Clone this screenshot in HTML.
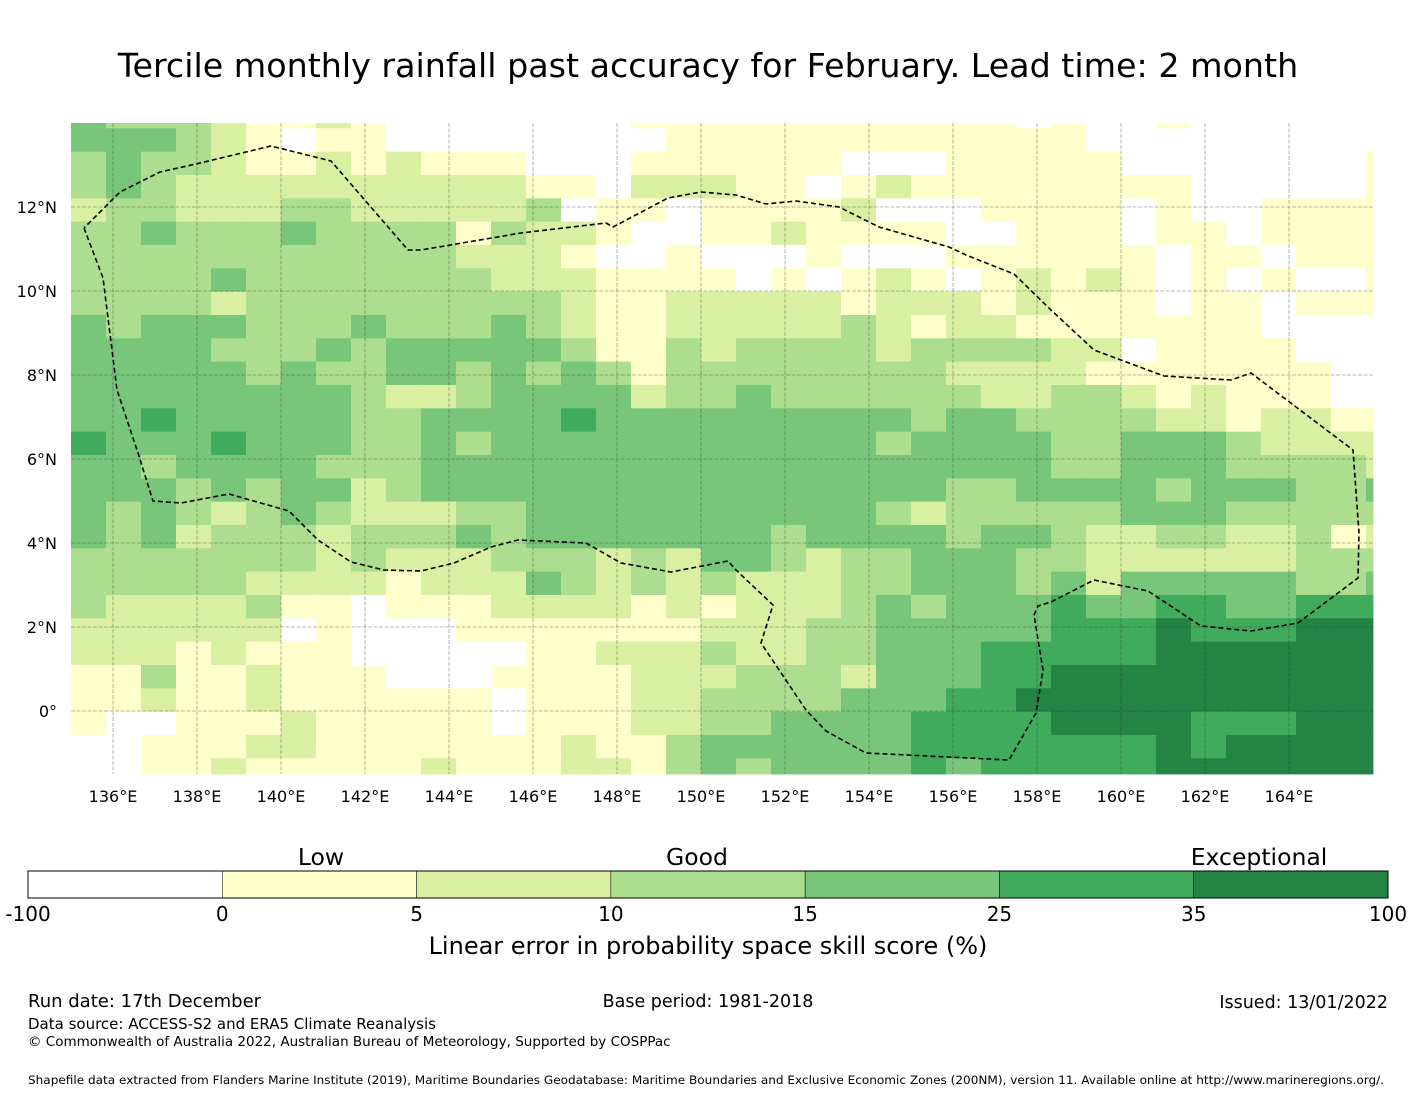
<!DOCTYPE html>
<html><head><meta charset="utf-8"><style>
body{margin:0;background:#fff;}
svg{display:block;font-family:"DejaVu Sans","Liberation Sans",sans-serif;}
</style></head><body>
<svg id="chart" width="1416" height="1095" viewBox="0 0 1416 1095" xmlns="http://www.w3.org/2000/svg">
<rect width="1416" height="1095" fill="#fff"/>
<text x="708" y="77" font-size="33.3" text-anchor="middle" fill="#000">Tercile monthly rainfall past accuracy for February. Lead time: 2 month</text>
<g id="cells"></g>
<g id="grid"></g>
<path id="eez" fill="none" stroke="#000" stroke-width="1.6" stroke-dasharray="5,3"/>
<g id="ticks" font-size="16" fill="#000"></g>
<g id="cbar"></g>
<text x="321" y="865" font-size="23.5" text-anchor="middle">Low</text>
<text x="697" y="865" font-size="23.5" text-anchor="middle">Good</text>
<text x="1259" y="865" font-size="23.5" text-anchor="middle">Exceptional</text>
<text x="708" y="954" font-size="24" text-anchor="middle">Linear error in probability space skill score (%)</text>
<text x="28" y="1007" font-size="18">Run date: 17th December</text>
<text x="708" y="1007" font-size="17.5" text-anchor="middle">Base period: 1981-2018</text>
<text x="1388" y="1008" font-size="17.5" text-anchor="end">Issued: 13/01/2022</text>
<text x="28" y="1029" font-size="15">Data source: ACCESS-S2 and ERA5 Climate Reanalysis</text>
<text x="28" y="1046" font-size="13.5">© Commonwealth of Australia 2022, Australian Bureau of Meteorology, Supported by COSPPac</text>
<text x="28" y="1084" font-size="11.5" textLength="1356" lengthAdjust="spacingAndGlyphs">Shapefile data extracted from Flanders Marine Institute (2019), Maritime Boundaries Geodatabase: Maritime Boundaries and Exclusive Economic Zones (200NM), version 11. Available online at http://www.marineregions.org/.</text>
</svg>
<script>
// colour class per cell (0=<0, 1=0-5, 2=5-10, 3=10-15, 4=15-25, 5=25-35, 6=35-100), rows north to south
const skillRows = [
"43332112100000001111111111101001000000",
"44432101100000000111111111111000000000",
"34332112121110001111110001111100000001",
"34322222222221102221101211111111000001",
"23322233222223011011112000111101001111",
"33433343333132210011211110011101101111",
"33333333333222100100010001111110110111",
"33334333333322211110101210121210101001",
"33332333333333211222221222121110110111",
"43444333433343211222223212211111110000",
"44443334344444311323333233332201111000",
"44444343344343431333333332222111111100",
"44444444322344442334333333223321211100",
"44544444334444544444444434433332212211",
"54445444334344444444444344443344432222",
"44344443334444444444444444443344433332",
"44434344234444444444444443344443444334",
"43432343222334444444444323333344433333",
"43423332333434444444344443443223322312",
"33333332322233323244323344433222222333",
"33333222212224323232223344434244444334",
"32222311011122221212223434445445544555",
"22222201000111111122233444445556555666",
"22212111000001122232233444555556666666",
"11311211100011112223332444556666666666",
"11211211111101112233334445566666666666",
"10011121111101112233444455556666555666",
"00111221111111211344444455555556566666",
"00112111112111221343444454555556666666"
];
const lonStart = 135.0, lonStep = 5/6;
const latTop = 14.0, latFirstEdge = 13.874, latStep = 5/9, latBottom = -1.5;
const lonTicks = [136,138,140,142,144,146,148,150,152,154,156,158,160,162,164];
const latTicks = [12,10,8,6,4,2,0];
const latTickLabels = ["12°N","10°N","8°N","6°N","4°N","2°N","0°"];
const binEdges = ["-100","0","5","10","15","25","35","100"];
const binColors = ["#ffffff","#ffffcc","#d9f0a3","#addd8e","#78c679","#41ab5d","#238443"];
const eezLonLat = [[84,228],[103,278],[117,390],[138,453],[153,501],[181,503],[229,494],[289,511],[318,540],[351,562],[384,570],[421,571],[454,563],[491,547],[518,540],[586,543],[621,563],[671,572],[728,561],[736,570],[773,605],[761,643],[806,710],[826,731],[866,753],[1009,760],[1036,713],[1043,670],[1034,615],[1038,606],[1051,602],[1094,580],[1148,591],[1201,626],[1251,631],[1298,623],[1358,578],[1359,533],[1353,450],[1251,373],[1231,380],[1164,376],[1094,350],[1051,310],[1014,274],[966,255],[949,247],[879,227],[839,207],[796,201],[766,204],[736,195],[701,192],[668,198],[613,227],[606,223],[521,233],[421,250],[408,250],[331,161],[271,146],[196,164],[160,172],[120,192],[84,228]].map(p=>[136+(p[0]-113)/42, 12-(p[1]-207)/42]);

const X0=113, PX=42, Y0=207;
const xs = lon => X0 + (lon-136)*PX;
const ys = lat => Y0 + (12-lat)*PX;
const NS="http://www.w3.org/2000/svg";
function mk(tag, attrs, parent){const e=document.createElementNS(NS,tag);for(const k in attrs)e.setAttribute(k,attrs[k]);parent.appendChild(e);return e;}

const cells=document.getElementById('cells');
skillRows.forEach((row,r)=>{
  const latA = r===0 ? latTop : latFirstEdge - (r-1)*latStep;
  const latB = Math.max(latBottom, latFirstEdge - r*latStep);
  for(let c=0;c<row.length;c++){
    const lonA = lonStart + c*lonStep;
    const lonB = Math.min(166.0, lonA+lonStep);
    const x1=xs(lonA), x2=xs(lonB), y1=ys(latA), y2=ys(latB);
    const rc = mk('rect',{x:x1.toFixed(2),y:y1.toFixed(2),width:(x2-x1+0.4).toFixed(2),height:(y2-y1+0.4).toFixed(2),fill:binColors[+row[c]]},cells);
    
    
  }
});

const grid=document.getElementById('grid'), ticks=document.getElementById('ticks');
const mapL=xs(lonStart), mapR=xs(166), mapT=ys(latTop), mapB=ys(latBottom);
lonTicks.forEach(l=>{
  const ln=mk('line',{x1:xs(l),x2:xs(l),y1:mapT,y2:mapB,stroke:"#333","stroke-opacity":0.45,"stroke-width":0.8,"stroke-dasharray":"4,1.5"},grid);
  
  
  const t=mk('text',{x:xs(l),y:mapB+28,"text-anchor":"middle"},ticks);
  t.textContent=l+"°E";
  
  
});
latTicks.forEach((l,i)=>{
  const ln=mk('line',{x1:mapL,x2:mapR,y1:ys(l),y2:ys(l),stroke:"#333","stroke-opacity":0.45,"stroke-width":0.8,"stroke-dasharray":"4,1.5"},grid);
  
  
  const t=mk('text',{x:mapL-14,y:ys(l)+6,"text-anchor":"end"},ticks);
  t.textContent=latTickLabels[i];
  
  
});

document.getElementById('eez').setAttribute('d', eezLonLat.map((p,i)=>(i?'L':'M')+xs(p[0]).toFixed(1)+' '+ys(p[1]).toFixed(1)).join(' '));

const cb=document.getElementById('cbar');
const cbL=28, cbR=1388, cbT=871, cbH=27, segW=(cbR-cbL)/binColors.length;
binColors.forEach((col,i)=>{
  const r=mk('rect',{x:cbL+i*segW,y:cbT,width:segW,height:cbH,fill:col,stroke:"#000","stroke-width":0.5},cb);
  
  
});
mk('rect',{x:cbL,y:cbT,width:cbR-cbL,height:cbH,fill:"none",stroke:"#000","stroke-width":1},cb);
binEdges.forEach((lab,i)=>{
  const t=mk('text',{x:cbL+i*segW,y:921,"font-size":20,"text-anchor":"middle"},cb);
  t.textContent=lab;
  
  
});
</script>
</body></html>
